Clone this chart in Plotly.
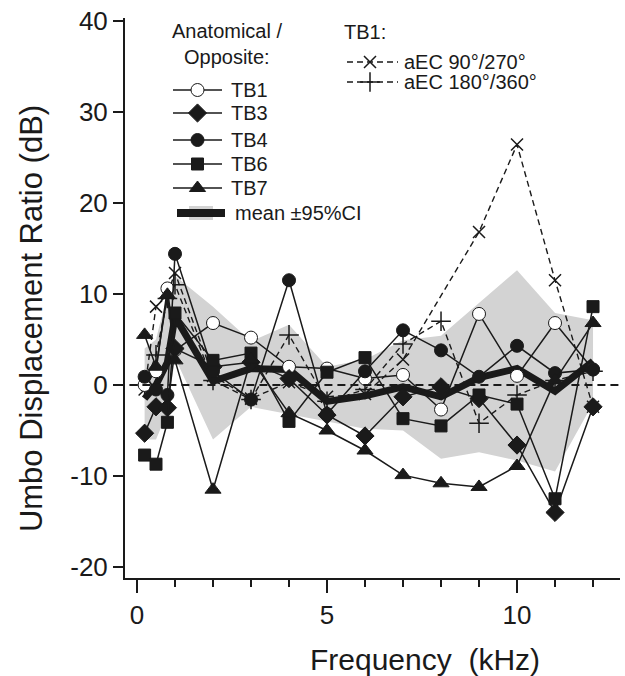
import plotly.graph_objects as go

# ---------------- data ----------------
freq = [0.2, 0.5, 0.8, 1, 2, 3, 4, 5, 6, 7, 8, 9, 10, 11, 12]
tb1 = [0.0, 1.5, 10.6, 3.8, 6.8, 5.2, 2.0, 1.8, 0.7, 1.1, -2.7, 7.8, 1.0, 6.8, 1.7]
tb3 = [-5.3, -2.4, -2.5, 4.0, 2.0, 2.5, 0.7, -3.3, -5.6, -1.3, -0.2, -1.5, -6.6, -14.0, -2.4]
tb4 = [0.9, -0.5, -1.1, 14.4, 1.5, -1.6, 11.5, -3.2, 1.5, 6.0, 3.8, 0.9, 4.3, 1.3, 1.7]
tb6 = [-7.7, -8.7, -4.1, 7.9, 2.7, 3.5, -4.0, 1.4, 3.0, -3.7, -4.5, -1.1, -2.1, -12.5, 8.6]
tb7 = [5.5, 2.0, 9.9, 2.7, -11.5, 2.8, -3.1, -5.0, -7.2, -9.9, -10.8, -11.2, -8.9, 0.5, 6.8]

aec90_freq = [0.2, 0.5, 0.8, 1, 2, 3, 4, 5, 6, 7, 9, 10, 11, 12]
aec90 = [-0.5, 8.6, 10.0, 12.3, 1.0, -1.5, 0.3, -1.3, -1.0, 2.8, 16.8, 26.4, 11.5, -2.4]
aec180 = [0.0, 3.3, 9.5, 11.0, 0.5, -1.6, 5.5, -1.8, -0.5, 4.5, 7.0, -4.2, -1.1, 0.5, 1.5]

mean = [-1.5, 0.0, 2.5, 7.5, 0.4, 1.8, 1.7, -1.8, -1.2, -0.2, -1.3, 0.8, 1.8, -0.7, 2.6]
ci_hi = [4.0, 5.0, 10.0, 12.0, 8.6, 4.8, 6.6, 2.0, 2.8, 4.9, 5.4, 9.0, 12.6, 7.9, 7.1]
ci_lo = [-6.0, -6.0, -3.0, 3.0, -6.0, -2.4, -3.2, -4.0, -4.8, -5.0, -8.1, -7.4, -8.3, -9.5, -2.0]

y_ticks = [-20, -10, 0, 10, 20, 30, 40]
y_ticktext = ["-20", "-10", "0", "10", "20", "30", "40"]
x_ticks = [0, 5, 10]

FONT = "Liberation Sans, Arial, sans-serif"
INK = "#1a1a1a"
GRAY = "#d3d3d3"

fig = go.Figure()

# CI band
fig.add_trace(go.Scatter(x=freq + freq[::-1], y=ci_hi + ci_lo[::-1], fill="toself",
                         fillcolor=GRAY, line=dict(width=0), mode="lines",
                         hoverinfo="skip", showlegend=False))

# zero dashed line
fig.add_shape(type="line", xref="x", yref="y", x0=-0.2, x1=12.7, y0=0, y1=0,
              line=dict(color=INK, width=2, dash="8px,5px"))

dash_style = "6px,4px"
fig.add_trace(go.Scatter(x=aec90_freq, y=aec90, mode="lines+markers",
                         line=dict(color=INK, width=1.4, dash=dash_style),
                         marker=dict(symbol="x-thin", size=12, line=dict(color=INK, width=1.5)),
                         showlegend=False))
fig.add_trace(go.Scatter(x=freq, y=aec180, mode="lines+markers",
                         line=dict(color=INK, width=1.4, dash=dash_style),
                         marker=dict(symbol="cross-thin", size=14, line=dict(color=INK, width=1.5)),
                         showlegend=False))

# mean
fig.add_trace(go.Scatter(x=freq, y=mean, mode="lines",
                         line=dict(color=INK, width=7), showlegend=False))

series = [
    (tb1, "circle", 13, "white"),
    (tb3, "diamond", 14, INK),
    (tb4, "circle", 13, INK),
    (tb6, "square", 12, INK),
    (tb7, "triangle-up", 14, INK),
]
for vals, sym, sz, fc in series:
    fig.add_trace(go.Scatter(x=freq, y=vals, mode="lines+markers",
                             line=dict(color=INK, width=1.5),
                             marker=dict(symbol=sym, size=sz, color=fc,
                                         line=dict(color=INK, width=1)),
                             showlegend=False))

# ---------------- manual legend on overlay pixel axes ----------------
legend_items = [
    ("TB1", "circle", 13, "white", 90),
    ("TB3", "diamond", 14, INK, 113),
    ("TB4", "circle", 13, INK, 140),
    ("TB6", "square", 12, INK, 164),
    ("TB7", "triangle-up", 14, INK, 188),
]
for name, sym, sz, fc, py in legend_items:
    fig.add_trace(go.Scatter(x=[173, 222], y=[py, py], mode="lines", xaxis="x2", yaxis="y2",
                             line=dict(color=INK, width=1.5), showlegend=False, hoverinfo="skip"))
    fig.add_trace(go.Scatter(x=[197.5], y=[py], mode="markers", xaxis="x2", yaxis="y2",
                             marker=dict(symbol=sym, size=sz, color=fc, line=dict(color=INK, width=1)),
                             showlegend=False, hoverinfo="skip"))
    fig.add_annotation(x=229, y=py, xref="x2", yref="y2", text=name, showarrow=False,
                       xanchor="left", yanchor="middle", font=dict(size=20, color=INK, family=FONT))

# mean legend
fig.add_shape(type="rect", xref="x2", yref="y2", x0=189, x1=213, y0=206, y1=220,
              fillcolor=GRAY, line=dict(width=0), layer="below")
fig.add_trace(go.Scatter(x=[177, 225], y=[213, 213], mode="lines", xaxis="x2", yaxis="y2",
                         line=dict(color=INK, width=8), showlegend=False, hoverinfo="skip"))
fig.add_annotation(x=233, y=213, xref="x2", yref="y2", text="mean ±95%CI", showarrow=False,
                   xanchor="left", yanchor="middle", font=dict(size=20, color=INK, family=FONT))

fig.add_annotation(x=227, y=31, xref="x2", yref="y2", text="Anatomical /", showarrow=False,
                   xanchor="center", yanchor="middle", font=dict(size=20, color=INK, family=FONT))
fig.add_annotation(x=227, y=57, xref="x2", yref="y2", text="Opposite:", showarrow=False,
                   xanchor="center", yanchor="middle", font=dict(size=20, color=INK, family=FONT))

fig.add_annotation(x=342, y=32, xref="x2", yref="y2", text="TB1:", showarrow=False,
                   xanchor="left", yanchor="middle", font=dict(size=20, color=INK, family=FONT))
for label, sym, sz, py in [("aEC 90°/270°", "x-thin", 12, 62), ("aEC 180°/360°", "cross-thin", 14, 82)]:
    fig.add_trace(go.Scatter(x=[347, 398], y=[py, py], mode="lines", xaxis="x2", yaxis="y2",
                             line=dict(color=INK, width=1.4, dash="6px,4px"), showlegend=False,
                             hoverinfo="skip"))
    fig.add_trace(go.Scatter(x=[370], y=[py], mode="markers", xaxis="x2", yaxis="y2",
                             marker=dict(symbol=sym, size=sz, line=dict(color=INK, width=1.5)),
                             showlegend=False, hoverinfo="skip"))
    fig.add_annotation(x=402, y=py, xref="x2", yref="y2", text=label, showarrow=False,
                       xanchor="left", yanchor="middle", font=dict(size=20, color=INK, family=FONT))

# axis titles
fig.add_annotation(x=-0.19, y=0.464, xref="paper", yref="paper", text="Umbo Displacement Ratio (dB)",
                   textangle=-90, showarrow=False, xanchor="center", yanchor="middle",
                   font=dict(size=31, color=INK, family=FONT))
fig.add_annotation(x=0.606, y=-0.146, xref="paper", yref="paper", text="Frequency\u00a0 (kHz)",
                   showarrow=False, xanchor="center", yanchor="middle",
                   font=dict(size=30, color=INK, family=FONT))

fig.update_layout(
    width=625, height=676,
    margin=dict(l=125, r=5, t=18, b=98),
    paper_bgcolor="white", plot_bgcolor="white",
    font=dict(family=FONT, color=INK),
    showlegend=False,
    xaxis=dict(range=[-0.316, 12.71], tickvals=x_ticks, ticks="outside", ticklen=13, tickwidth=2,
               tickcolor=INK, showline=True, linecolor=INK, linewidth=2, showgrid=False,
               zeroline=False, tickfont=dict(size=26, color=INK, family=FONT),
               minor=dict(dtick=1, tick0=0, ticks="outside", ticklen=7, tickwidth=2, tickcolor=INK,
                          showgrid=False)),
    yaxis=dict(range=[-21.2, 40.3], tickvals=y_ticks, ticktext=y_ticktext, ticks="outside",
               ticklen=10, tickwidth=2, tickcolor=INK, showline=True, linecolor=INK, linewidth=2,
               showgrid=False, zeroline=False, tickfont=dict(size=26, color=INK, family=FONT)),
    xaxis2=dict(range=[125, 620], overlaying="x", visible=False, fixedrange=True),
    yaxis2=dict(range=[578, 18], overlaying="y", visible=False, fixedrange=True),
)

fig.write_html("out.html")
